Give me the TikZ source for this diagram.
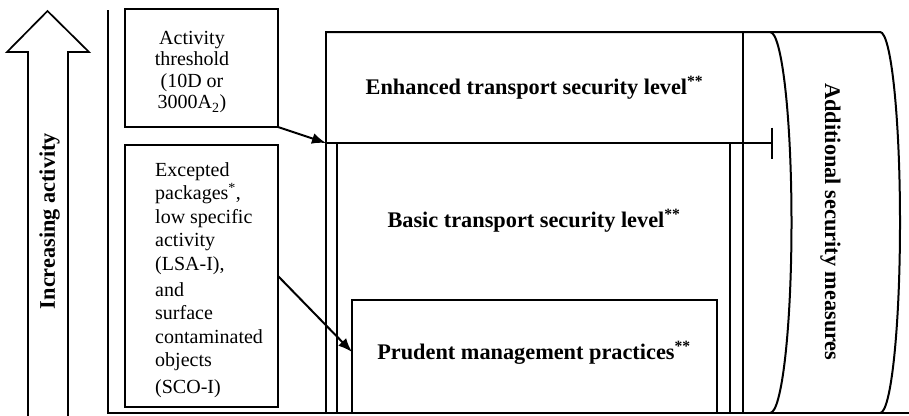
\documentclass[tikz,border=0pt]{standalone}
\usepackage{fontspec}
\setmainfont{Liberation Serif}
\usetikzlibrary{arrows.meta}

\begin{document}
\begin{tikzpicture}[x=1pt, y=-1pt,
  frame/.style={draw, line width=2pt, inner sep=0pt, outer sep=0pt, anchor=north west},
  edge/.style={line width=2pt},
  bold label/.style={font=\fontsize{22.3}{25}\selectfont\bfseries, inner sep=0pt},
  plain label/.style={font=\fontsize{20}{23.5}\selectfont, inner sep=0pt},
  link/.style={line width=2pt, -{Latex[length=14pt,width=11pt]}},
  cap link/.style={line width=2pt, -{Bar[width=31pt]}},
]
\useasboundingbox (0,0) rectangle (909,415);

% hollow arrow on the left
\draw[line width=1.7pt] (28,416) -- (28,52) -- (7,52) -- (47.5,11) -- (89,52) -- (68,52) -- (68,416);
\node[bold label, rotate=90] (axis) at (49.5,221) {Increasing activity};

% axis frame
\coordinate (axtop) at (108,10);
\coordinate (axcorner) at (108,413);
\coordinate (axend) at (909,413);
\draw[edge] (axtop) -- (axcorner) -- (axend);

% threshold and exemption boxes
\node[frame, minimum width=153pt, minimum height=118pt] (act) at (125,9) {};
\node[plain label, align=center, anchor=north, font=\fontsize{20}{21.5}\selectfont] (acttxt) at (192,31)
  {Activity\\threshold\\(10D or\\3000A\textsubscript{2})};

\node[frame, minimum width=153pt, minimum height=262pt] (exc) at (125,145) {};
\node[plain label, align=left, anchor=north west] (exctxt) at (155,162)
  {Excepted\\packages\textsuperscript{*},\\low specific\\activity\\(LSA-I),\\[2.5pt]and\\surface\\contaminated\\objects\\[3.5pt](SCO-I)};

% security levels
\node[frame, minimum width=417pt, minimum height=381pt] (enh) at (326,32) {};
\node[frame, minimum width=393pt, minimum height=270pt] (basic) at (337,143) {};
\node[frame, minimum width=365pt, minimum height=113pt] (prud) at (352,300) {};

\node[bold label] (enhtxt) at (534.5,88) {Enhanced transport security level\textsuperscript{**}};
\node[bold label] (basictxt) at (534,221) {Basic transport security level\textsuperscript{**}};
\node[bold label] (prudtxt) at (534,353) {Prudent management practices\textsuperscript{**}};

% additional measures drum
\draw[edge] (enh.north west) -- (880,32)
  arc[start angle=-90, end angle=90, x radius=20, y radius=190.5];
\draw[edge] (770,32) arc[start angle=-90, end angle=90, x radius=21.5, y radius=190.5];
\node[bold label, rotate=-90] (addtxt) at (830.5,222) {Additional security measures};

% connectors
\coordinate (lvl) at (enh.west |- basic.north);
\coordinate (lvlend) at (773,143);
\draw[cap link] (lvl) -- (lvlend);
\draw[link] (act.south east) -- (lvl);
\draw[link] (exc.east) -- ([yshift=4.5pt]prud.west);
\end{tikzpicture}
\end{document}
